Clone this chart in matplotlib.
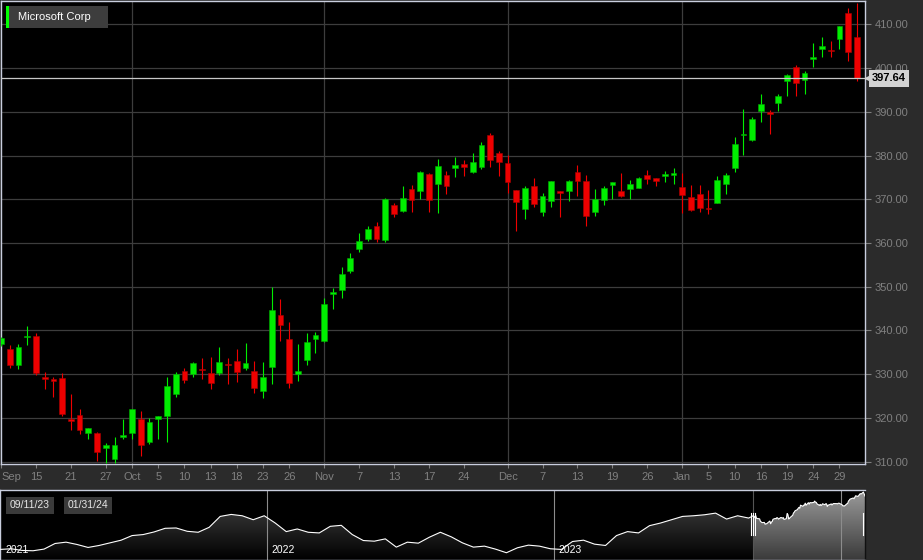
import numpy as np
import pandas as pd
import matplotlib
matplotlib.use('Agg')
import matplotlib.pyplot as plt
import matplotlib.dates as mdates
import matplotlib.transforms as mtransforms
from matplotlib.colors import LinearSegmentedColormap
from matplotlib.patches import Rectangle

plt.rcParams['font.family'] = ['Liberation Sans', 'DejaVu Sans']

# trading days shown in the main panel
holidays = ['2023-11-23', '2023-12-25', '2024-01-01', '2024-01-15']
days = pd.bdate_range('2023-09-11', '2024-01-31')
days = days[~days.isin(pd.to_datetime(holidays))]

opens = [336.9, 335.8, 332.1, 338.4, 338.8, 329.3, 328.9, 329.2, 319.7, 320.7,
         316.5, 316.5, 313.1, 310.5, 315.7, 316.5, 319.8, 314.6, 319.7, 320.5,
         325.4, 330.7, 330.0, 331.3, 330.2, 330.2, 332.4, 333.0, 331.5, 330.7,
         326.2, 331.7, 343.5, 338.0, 330.0, 333.3, 338.1, 337.6, 348.3, 349.3,
         353.6, 358.6, 360.8, 363.9, 360.6, 368.7, 367.4, 372.3, 371.9, 375.8,
         373.6, 375.5, 377.1, 378.0, 376.2, 377.3, 384.7, 380.5, 378.2, 372.1,
         367.7, 373.0, 367.0, 369.7, 371.9, 372.0, 376.2, 374.2, 367.0, 369.8,
         373.3, 372.0, 372.4, 372.6, 375.5, 374.8, 375.3, 375.6, 372.7, 370.6,
         371.2, 368.0, 369.2, 373.4, 377.1, 384.7, 383.5, 390.2, 389.9, 391.9,
         397.0, 400.2, 397.3, 402.0, 404.3, 404.0, 406.6, 412.7, 407.0]
highs = [338.6, 336.7, 336.9, 341.0, 339.4, 330.4, 329.4, 330.3, 325.4, 322.0,
         317.8, 316.9, 314.3, 315.6, 319.7, 322.0, 321.6, 320.1, 320.5, 329.3,
         330.4, 331.4, 332.9, 333.7, 333.9, 336.3, 333.6, 335.7, 337.2, 333.0,
         332.7, 349.9, 347.1, 342.0, 336.9, 339.4, 339.7, 347.4, 349.6, 354.4,
         357.6, 362.4, 363.9, 364.7, 370.2, 369.2, 373.0, 373.3, 376.5, 375.9,
         379.2, 376.5, 379.7, 379.0, 380.5, 383.0, 385.2, 381.0, 380.1, 372.2,
         373.0, 374.8, 371.4, 374.2, 371.9, 374.4, 377.8, 375.5, 372.3, 373.0,
         374.0, 375.9, 374.4, 375.2, 376.8, 374.9, 376.5, 377.1, 375.9, 373.3,
         373.3, 372.1, 375.3, 375.9, 384.2, 390.6, 388.7, 394.0, 390.4, 394.0,
         398.6, 400.7, 399.3, 405.7, 407.2, 406.2, 409.7, 413.7, 414.9]
lows = [336.5, 331.5, 331.1, 336.7, 329.8, 326.6, 324.7, 320.5, 317.2, 316.3,
        315.1, 310.2, 309.8, 309.6, 315.3, 315.3, 311.4, 314.0, 315.1, 314.6,
        324.7, 327.9, 329.3, 328.8, 326.6, 329.8, 327.7, 328.3, 331.0, 325.6,
        324.6, 327.8, 337.7, 326.9, 328.5, 332.0, 334.8, 337.3, 344.8, 347.4,
        353.2, 357.9, 360.5, 360.3, 360.3, 365.9, 367.2, 367.2, 370.1, 367.0,
        366.9, 371.1, 375.0, 375.3, 375.9, 376.9, 377.4, 375.4, 371.4, 362.8,
        365.6, 368.3, 366.2, 368.3, 366.0, 369.7, 370.8, 364.0, 366.2, 368.8,
        370.0, 370.6, 370.0, 372.5, 373.6, 373.0, 374.0, 373.4, 366.8, 367.4,
        367.2, 366.6, 369.2, 371.1, 376.2, 380.1, 383.4, 387.6, 384.9, 390.2,
        393.6, 393.6, 394.1, 400.3, 402.6, 402.6, 404.3, 401.6, 397.1]
closes = [338.2, 332.1, 336.2, 338.8, 330.3, 329.0, 328.5, 320.9, 319.4, 317.2,
          317.8, 312.3, 313.7, 313.7, 316.0, 322.0, 313.7, 319.0, 320.5, 327.4,
          330.0, 328.7, 332.5, 331.0, 327.9, 332.7, 332.0, 330.4, 332.6, 326.8,
          329.3, 344.7, 341.3, 328.1, 330.8, 337.4, 339.0, 346.1, 348.7, 352.9,
          356.6, 360.5, 363.2, 360.8, 370.0, 366.6, 370.3, 369.8, 376.2, 369.8,
          377.6, 373.1, 377.8, 377.3, 378.6, 382.4, 379.0, 378.6, 374.0, 369.3,
          372.5, 368.9, 370.8, 374.2, 371.4, 374.2, 374.2, 366.2, 370.0, 372.5,
          373.9, 370.7, 373.5, 374.9, 374.7, 374.1, 375.7, 376.1, 371.0, 367.6,
          368.1, 367.7, 374.3, 375.5, 382.6, 385.0, 388.4, 391.8, 389.5, 393.6,
          398.4, 396.6, 398.8, 402.6, 405.0, 403.8, 409.7, 403.6, 397.64]

tick_days = ['2023-09-11', '2023-09-15', '2023-09-21', '2023-09-27', '2023-10-02',
             '2023-10-05', '2023-10-10', '2023-10-13', '2023-10-18', '2023-10-23',
             '2023-10-26', '2023-11-01', '2023-11-07', '2023-11-13', '2023-11-17',
             '2023-11-24', '2023-12-01', '2023-12-07', '2023-12-13', '2023-12-19',
             '2023-12-26', '2024-01-02', '2024-01-05', '2024-01-10', '2024-01-16',
             '2024-01-19', '2024-01-24', '2024-01-29']
tick_labels = ['Sep', '15', '21', '27', 'Oct', '5', '10', '13', '18', '23', '26',
               'Nov', '7', '13', '17', '24', 'Dec', '7', '13', '19', '26',
               'Jan', '5', '10', '16', '19', '24', '29']
month_days = ['2023-10-02', '2023-11-01', '2023-12-01', '2024-01-02']
price_ticks = [310, 320, 330, 340, 350, 360, 370, 380, 390, 400, 410]

# navigator history, one value every two weeks before the shown window
nav_start = '2021-01-26'
nav_prices = [236, 238, 233, 232, 237, 254, 258, 251, 242, 248,
              256, 264, 278, 281, 289, 300, 301, 291, 288, 303,
              336, 342, 338, 326, 338, 316, 290, 298, 288, 286,
              306, 309, 281, 263, 261, 268, 243, 258, 255, 273,
              288, 274, 256, 243, 246, 237, 226, 241, 249, 246,
              238, 236, 260, 264, 252, 248, 278, 290, 286, 308,
              316, 326, 336, 338, 341, 346, 328, 338, 331]
year_starts = ['2022-01-01', '2023-01-01', '2024-01-01']
year_labels = ['2022', '2023', '2024']

BG = '#2b2b2b'
BORDER = '#c9cede'
GRID = '#3d3d3d'
TXT = '#808080'
UP = '#00ee00'
DOWN = '#ee0000'

W, H = 923, 560
fig = plt.figure(figsize=(W / 100, H / 100), dpi=100)
fig.patch.set_facecolor(BG)

# ---------- main candlestick panel ----------
ax = fig.add_axes([1 / W, 96 / H, 864 / W, 463 / H])
ax.set_facecolor('black')

idx = np.arange(len(days))
o = np.array(opens)
c = np.array(closes)
up = c >= o
cols = np.where(up, UP, DOWN)
edges = np.where(up, '#00a800', '#a80000')

ax.vlines(idx, lows, highs, colors=cols, linewidth=0.8, zorder=3)
ax.bar(idx, np.maximum(np.abs(c - o), 0.3), bottom=np.minimum(o, c), width=0.66,
       color=cols, edgecolor=edges, linewidth=0.4, zorder=4)

for d in month_days:
    ax.axvline(days.get_loc(pd.Timestamp(d)), color=GRID, linewidth=0.9, zorder=1)
ax.set_yticks(price_ticks)
ax.yaxis.grid(True, color=GRID, linewidth=0.9, zorder=1)
ax.set_axisbelow(True)

ax.axhline(closes[-1], color='#c8c8c8', linewidth=0.9, zorder=5)

ax.set_xlim(0.09, 98.92)
ax.set_ylim(309.47, 415.33)

ax.set_xticks([days.get_loc(pd.Timestamp(d)) for d in tick_days])
ax.set_xticklabels(tick_labels)
ax.get_xticklabels()[0].set_horizontalalignment('left')
ax.yaxis.tick_right()
ax.set_yticklabels(['%.2f' % v for v in price_ticks])
ax.tick_params(axis='x', colors=TXT, labelsize=8, length=3, width=0.8, pad=3)
ax.tick_params(axis='y', colors=TXT, labelsize=8, length=4, width=0.8, pad=3)
for s in ax.spines.values():
    s.set_color(BORDER)
    s.set_linewidth(1)

# last price tag
blend = mtransforms.blended_transform_factory(ax.transAxes, ax.transData)
ax.text(1.008, closes[-1], '%.2f' % closes[-1], transform=blend, fontsize=8,
        fontweight='bold', color='black', va='center', ha='left', zorder=10,
        clip_on=False, bbox=dict(boxstyle='square,pad=0.3', facecolor='#d2d2d2',
                                 edgecolor='none'))
ax.plot([1.003], [closes[-1]], marker='<', markersize=4, color='#d2d2d2',
        transform=blend, clip_on=False, zorder=10)

# series label
fig.patches.append(Rectangle((5.7 / W, 1 - 27.7 / H), 102 / W, 22 / H,
                             facecolor='#3d3d3d', edgecolor='none',
                             transform=fig.transFigure, zorder=5))
fig.patches.append(Rectangle((5.7 / W, 1 - 27.7 / H), 3 / W, 22 / H,
                             facecolor='#00ff00', edgecolor='none',
                             transform=fig.transFigure, zorder=6))
fig.text(17.5 / W, 1 - 16.9 / H, 'Microsoft Corp', color='white', fontsize=8,
         va='center', ha='left', zorder=7)

# ---------- navigator ----------
nav = fig.add_axes([0, 0, 865 / W, 70 / H])
nav.set_facecolor('black')

hist_dates = pd.date_range(nav_start, periods=len(nav_prices), freq='14D')
hist_x = mdates.date2num(list(hist_dates.to_pydatetime()) + [days[0].to_pydatetime()])
hist_y = np.array(nav_prices + [closes[0]], dtype=float)
sel_x = mdates.date2num(days.to_pydatetime())
sel_y = c

x0 = mdates.date2num(pd.Timestamp(nav_start).to_pydatetime())
x1 = x0 + 1100
y0, y1 = 204, 416

grad = np.linspace(1, 0, 256).reshape(-1, 1)
dark = LinearSegmentedColormap.from_list('dark', ['#000000', '#4a4a4a'])
light = LinearSegmentedColormap.from_list('light', ['#3a3a3a', '#9c9c9c'])

for xs, ys, cmap in [(hist_x, hist_y, dark), (sel_x, sel_y, light)]:
    poly = nav.fill_between(xs, ys, y0, facecolor='none', edgecolor='none')
    im = nav.imshow(grad, extent=[x0, x1, y0, y1], aspect='auto', cmap=cmap,
                    vmin=0, vmax=1, zorder=1)
    im.set_clip_path(poly.get_paths()[0], transform=nav.transData)

nav.plot(np.concatenate([hist_x, sel_x]), np.concatenate([hist_y, sel_y]),
         color='white', linewidth=0.8, zorder=3)

for d, lab in zip(year_starts, year_labels):
    xd = mdates.date2num(pd.Timestamp(d).to_pydatetime())
    nav.axvline(xd, color='#8c8c8c', linewidth=0.8, zorder=2)
    if lab != '2024':
        nav.annotate(lab, (xd, 0.14), xycoords=('data', 'axes fraction'),
                     xytext=(3, 0), textcoords='offset points', color='white',
                     fontsize=7.5, va='center', ha='left', zorder=4)
nav.text(0.006, 0.14, '2021', transform=nav.transAxes, color='white',
         fontsize=7.5, va='center', ha='left', zorder=4)

nav.axvline(sel_x[0], color='#555555', linewidth=0.8, zorder=2)
for xd in [sel_x[0], sel_x[-1]]:
    for off in [-2.6, 0, 2.6]:
        nav.plot([xd + off, xd + off], [0.36, 0.67], color='white', linewidth=0.8,
                 transform=mtransforms.blended_transform_factory(nav.transData, nav.transAxes),
                 zorder=5)

for i, d in enumerate([days[0], days[-1]]):
    nav.text((10 + 57.3 * i) / 865, 0.78, d.strftime('%m/%d/%y'), transform=nav.transAxes,
             color='#e6e6e6', fontsize=7.5, va='center', ha='left', zorder=6,
             bbox=dict(boxstyle='square,pad=0.35', facecolor='#3a3a3a', edgecolor='none'))

nav.set_xlim(x0, x1)
nav.set_ylim(y0, y1)
nav.set_xticks([])
nav.set_yticks([])
for s in nav.spines.values():
    s.set_color(BORDER)
    s.set_linewidth(1)
nav.spines['right'].set_color('#111111')

fig.savefig('out.png', dpi=100, facecolor=BG)
